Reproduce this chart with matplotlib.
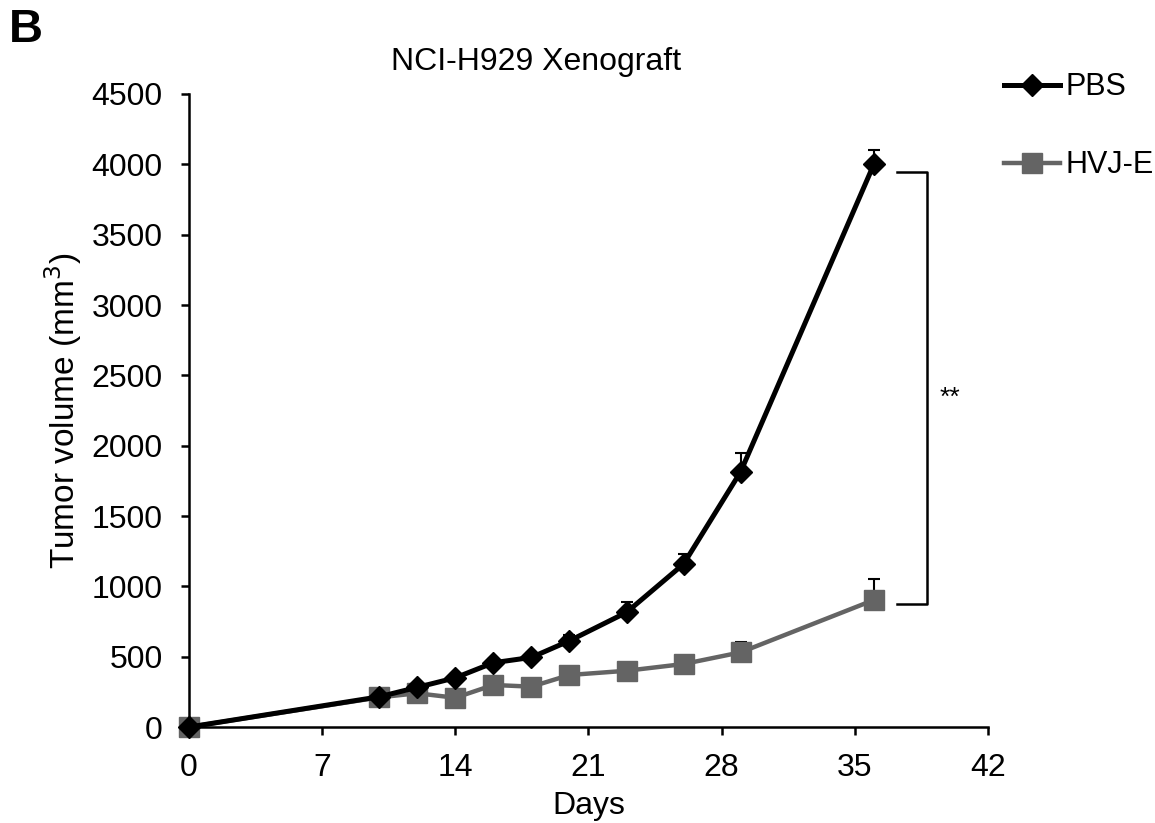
import matplotlib
matplotlib.use("Agg")
import matplotlib.pyplot as plt
from matplotlib.lines import Line2D

plt.rcParams['font.family'] = ['Liberation Sans', 'DejaVu Sans']

days_pbs = [0, 10, 12, 14, 16, 18, 20, 23, 26, 29, 36]
pbs = [0, 215, 282, 350, 457, 495, 613, 815, 1159, 1815, 4000]
pbs_err = [0, 20, 25, 25, 30, 30, 40, 71, 71, 135, 105]

days_hvj = [0, 10, 12, 14, 16, 18, 20, 23, 26, 29, 36]
hvj = [0, 211, 240, 208, 299, 287, 370, 400, 448, 531, 903]
hvj_err = [0, 15, 20, 15, 25, 20, 25, 30, 30, 75, 147]

x_ticks = [0, 7, 14, 21, 28, 35, 42]
y_ticks = [0, 500, 1000, 1500, 2000, 2500, 3000, 3500, 4000, 4500]

fig = plt.figure(figsize=(11.55, 8.23), dpi=100)
ax = fig.add_axes([0.1636, 0.1166, 0.6918, 0.7692])

gray = '#646464'
ax.errorbar(days_hvj, hvj, yerr=[[0]*len(hvj_err), hvj_err], color=gray, lw=3.2,
            marker='s', ms=14, ecolor='black', elinewidth=1.5, capsize=4.5, capthick=1.5,
            zorder=2, clip_on=False)
ax.errorbar(days_pbs, pbs, yerr=[[0]*len(pbs_err), pbs_err], color='black', lw=3.6,
            marker='D', ms=11, ecolor='black', elinewidth=1.5, capsize=4.5, capthick=1.5,
            zorder=3, clip_on=False)

ax.set_xlim(0, 42)
ax.set_ylim(0, 4500)

ax.spines['top'].set_visible(False)
ax.spines['right'].set_visible(False)
ax.spines['left'].set_linewidth(1.8)
ax.spines['bottom'].set_linewidth(1.8)
ax.set_xticks(x_ticks)
ax.set_yticks(y_ticks)
ax.tick_params(axis='both', direction='out', length=6, width=1.8, labelsize=23, pad=13)

ax.set_xlabel('Days', fontsize=23, va='center')
ax.xaxis.set_label_coords(0.5, -0.1248)
ax.set_ylabel('Tumor volume (mm$^3$)', fontsize=24, va='center')
ax.yaxis.set_label_coords(-0.158, 0.5)
fig.text(536 / 1155, 1 - 62 / 823, 'NCI-H929 Xenograft', fontsize=23, ha='center', va='center')

# significance bracket
ax.plot([37.2, 38.8, 38.8, 37.2], [3948, 3948, 874, 874], color='black', lw=1.8, clip_on=False)
ax.text(40.0, 2340, '**', fontsize=19, ha='center', va='center')

fig.text(0.008, 0.99, 'B', fontsize=34, fontweight='bold', va='top', ha='left')

handles = [Line2D([], [], color='black', lw=3.6, marker='D', ms=11),
           Line2D([], [], color=gray, lw=3.2, marker='s', ms=14)]
fig.legend(handles, ['PBS', 'HVJ-E'], loc='upper left', bbox_to_anchor=(0.869, 0.912),
           frameon=False, fontsize=22, handlelength=1.85, handletextpad=0.17,
           labelspacing=1.57, borderaxespad=0, borderpad=0)

fig.savefig('out.png', dpi=100)
